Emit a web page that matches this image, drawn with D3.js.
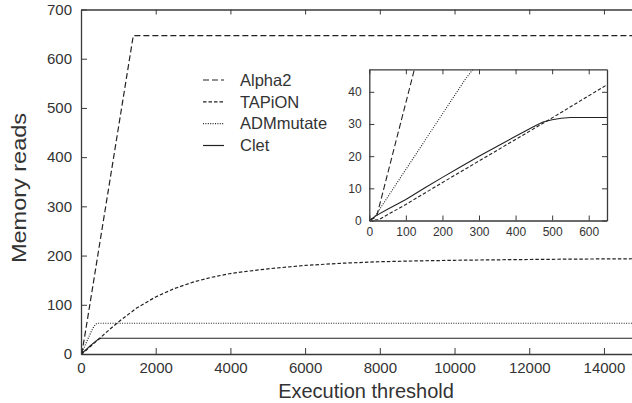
<!DOCTYPE html>
<html><head><meta charset="utf-8">
<script src="https://cdn.jsdelivr.net/npm/d3@7/dist/d3.min.js"></script>
<style>
body{margin:0;background:#fff}
text{font-family:"Liberation Sans",Arial,Helvetica,sans-serif;fill:#333}
</style>
</head><body>
<svg id="c" width="632" height="403"></svg>
<script>
// ---- data ----
const seriesNames = ["Alpha2", "TAPiON", "ADMmutate", "Clet"];

const alpha2X = [0, 20, 120, 1400, 15000];
const alpha2Y = [0, 1.2, 45.5, 647, 647];

const tapionX = [0, 25, 100, 200, 300, 400, 500, 650, 1000, 1500, 2000, 2500, 3000, 3500, 4000, 4500, 5000, 5500, 6000, 7000, 8000, 9000, 10000, 11000, 12000, 13000, 14000, 15000];
const tapionY = [0, 0.2, 5, 11.8, 18.5, 25.2, 31.9, 42.2, 65, 94, 116, 133, 146, 156, 163.5, 168.5, 173, 176.5, 180, 184.5, 187.5, 189.2, 190.4, 191.3, 192, 192.7, 193.2, 193.6];

const admX = [0, 15, 150, 262, 300, 340, 380, 420, 460, 15000];
const admY = [0, 1.2, 24.5, 43.8, 49.5, 55, 59.5, 62, 62.5, 62.5];

const cletX = [0, 20, 50, 100, 150, 200, 250, 300, 350, 400, 450, 475, 500, 525, 550, 15000];
const cletY = [0, 1.6, 3.5, 6.5, 10, 13.4, 16.7, 20, 23.1, 26.2, 29.2, 30.6, 31.3, 31.8, 32, 32];

const mainXTicks = [0, 2000, 4000, 6000, 8000, 10000, 12000, 14000];
const mainYTicks = [0, 100, 200, 300, 400, 500, 600, 700];
const insetXTicks = [0, 100, 200, 300, 400, 500, 600];
const insetYTicks = [0, 10, 20, 30, 40];

const xTitle = "Execution threshold";
const yTitle = "Memory reads";

// ---- styles ----
const dashes = {"Alpha2": "6,3", "TAPiON": "3.5,2", "ADMmutate": "1,1.4", "Clet": null};
const lineColor = "#222";
const axisColor = "#3a3a3a";

const series = [
  {name: "Alpha2", pts: alpha2X.map((x, i) => [x, alpha2Y[i]])},
  {name: "TAPiON", pts: tapionX.map((x, i) => [x, tapionY[i]])},
  {name: "ADMmutate", pts: admX.map((x, i) => [x, admY[i]])},
  {name: "Clet", pts: cletX.map((x, i) => [x, cletY[i]])}
];

const svg = d3.select("#c");
const defs = svg.append("defs");

// ---- main plot ----
const x = d3.scaleLinear([0, 15000], [81, 641.3]);
const y = d3.scaleLinear([0, 700], [354, 9.5]);

defs.append("clipPath").attr("id", "mainClip").append("rect")
  .attr("x", x(0)).attr("y", y(700)).attr("width", x(15000) - x(0)).attr("height", y(0) - y(700));

const line = d3.line().x(d => x(d[0])).y(d => y(d[1]));
const gMain = svg.append("g").attr("clip-path", "url(#mainClip)");
series.forEach(s => {
  gMain.append("path").attr("d", line(s.pts))
    .attr("fill", "none").attr("stroke", lineColor).attr("stroke-width", 1.2)
    .attr("stroke-dasharray", dashes[s.name]);
});

function styleAxis(g, fs) {
  g.select(".domain").attr("stroke", axisColor).attr("stroke-width", 1.3);
  g.selectAll(".tick line").attr("stroke", axisColor).attr("stroke-width", 1);
  g.selectAll(".tick text").attr("fill", "#333").style("font-size", fs + "px")
    .style("font-family", '"Liberation Sans",Arial,Helvetica,sans-serif');
  g.attr("font-family", null).attr("font-size", null);
}

svg.append("g").attr("transform", `translate(0,${y(0)})`)
  .call(d3.axisBottom(x).tickValues(mainXTicks).tickSizeInner(-6).tickSizeOuter(0).tickPadding(8.7).tickFormat(d3.format("d")))
  .call(g => styleAxis(g, 15));
svg.append("g").attr("transform", `translate(0,${y(700)})`)
  .call(d3.axisTop(x).tickValues(mainXTicks).tickSizeInner(-5).tickSizeOuter(0).tickFormat(""))
  .call(g => styleAxis(g, 15));
svg.append("g").attr("transform", `translate(${x(0)},0)`)
  .call(d3.axisLeft(y).tickValues(mainYTicks).tickSizeInner(-6).tickSizeOuter(0).tickPadding(9).tickFormat(d3.format("d")))
  .call(g => styleAxis(g, 15));
svg.append("g").attr("transform", `translate(${x(15000)},0)`)
  .call(d3.axisRight(y).tickValues(mainYTicks).tickSizeInner(-6).tickSizeOuter(0).tickFormat(""))
  .call(g => styleAxis(g, 15));

// titles
svg.append("text").attr("x", 366).attr("y", 398).attr("text-anchor", "middle")
  .style("font-size", "20px").text(xTitle);
svg.append("text").attr("transform", "translate(26,188) rotate(-90)").attr("text-anchor", "middle")
  .attr("textLength", 150).attr("lengthAdjust", "spacingAndGlyphs")
  .style("font-size", "21px").text(yTitle);

// legend
const legY = d3.scalePoint().domain(seriesNames).range([80, 145.5]);
const leg = svg.append("g");
seriesNames.forEach(n => {
  leg.append("line").attr("x1", 203).attr("x2", 224).attr("y1", legY(n)).attr("y2", legY(n))
    .attr("stroke", lineColor).attr("stroke-width", 1.2).attr("stroke-dasharray", dashes[n]);
  leg.append("text").attr("x", 240).attr("y", legY(n)).attr("dy", "0.35em")
    .style("font-size", "16.5px").text(n);
});

// ---- inset ----
const xi = d3.scaleLinear([0, 650], [369.3, 607]);
const yi = d3.scaleLinear([0, 47], [220.5, 69.3]);

svg.append("rect").attr("x", xi(0)).attr("y", yi(47)).attr("width", xi(650) - xi(0)).attr("height", yi(0) - yi(47))
  .attr("fill", "#fff");
defs.append("clipPath").attr("id", "insetClip").append("rect")
  .attr("x", xi(0)).attr("y", yi(47)).attr("width", xi(650) - xi(0)).attr("height", yi(0) - yi(47));

const lineI = d3.line().x(d => xi(d[0])).y(d => yi(d[1]));
const gIn = svg.append("g").attr("clip-path", "url(#insetClip)");
series.forEach(s => {
  gIn.append("path").attr("d", lineI(s.pts))
    .attr("fill", "none").attr("stroke", lineColor).attr("stroke-width", 1.1)
    .attr("stroke-dasharray", dashes[s.name]);
});

svg.append("g").attr("transform", `translate(0,${yi(0)})`)
  .call(d3.axisBottom(xi).tickValues(insetXTicks).tickSizeInner(-5).tickSizeOuter(0).tickPadding(7).tickFormat(d3.format("d")))
  .call(g => styleAxis(g, 12));
svg.append("g").attr("transform", `translate(0,${yi(47)})`)
  .call(d3.axisTop(xi).tickValues(insetXTicks).tickSizeInner(-5).tickSizeOuter(0).tickFormat(""))
  .call(g => styleAxis(g, 12));
svg.append("g").attr("transform", `translate(${xi(0)},0)`)
  .call(d3.axisLeft(yi).tickValues(insetYTicks).tickSizeInner(-5).tickSizeOuter(0).tickPadding(7.6).tickFormat(d3.format("d")))
  .call(g => styleAxis(g, 12));
svg.append("g").attr("transform", `translate(${xi(650)},0)`)
  .call(d3.axisRight(yi).tickValues(insetYTicks).tickSizeInner(-5).tickSizeOuter(0).tickFormat(""))
  .call(g => styleAxis(g, 12));
</script>
</body></html>
